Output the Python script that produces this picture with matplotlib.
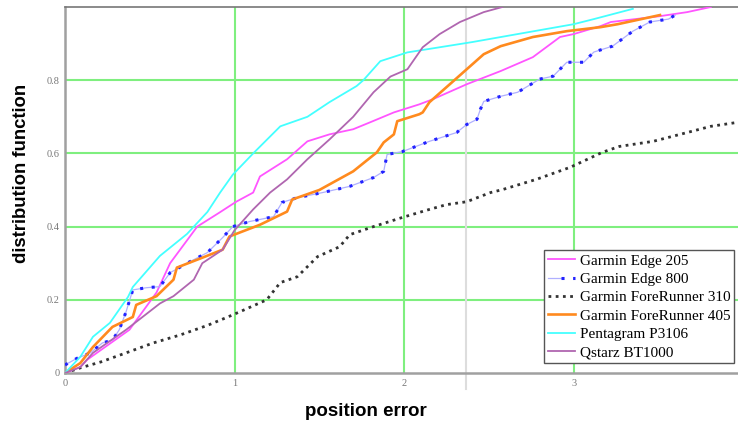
import matplotlib
matplotlib.use("Agg")
import matplotlib.pyplot as plt
from matplotlib.legend_handler import HandlerTuple

labels = ["Garmin Edge 205", "Garmin Edge 800", "Garmin ForeRunner 310",
          "Garmin ForeRunner 405", "Pentagram P3106", "Qstarz BT1000"]

edge205_x = [0, .09, .13, .38, .54, .62, .78, .91, 1.01, 1.11, 1.15, 1.31, 1.43, 1.56, 1.70, 1.80,
             1.94, 2.09, 2.17, 2.37, 2.57, 2.76, 2.92, 3.0, 3.16, 3.22, 3.51, 3.67, 3.81]
edge205_y = [0, .016, .036, .118, .22, .30, .40, .438, .468, .493, .537, .584, .633, .652, .666, .685,
             .712, .734, .748, .789, .825, .863, .918, .926, .948, .959, .975, .986, 1.0]

edge800_x = [0, .07, .15, .22, .28, .32, .36, .40, .48, .56, .62, .72, .84, .93, .99, 1.09, 1.23, 1.28,
             1.37, 1.52, 1.68, 1.82, 1.88, 1.90, 1.99, 2.15, 2.31, 2.37, 2.43, 2.45, 2.47, 2.57, 2.67,
             2.80, 2.88, 2.96, 3.06, 3.12, 3.23, 3.35, 3.45, 3.56, 3.60]
edge800_y = [.022, .04, .055, .082, .09, .118, .167, .227, .233, .236, .274, .30, .329, .37, .40, .414,
             .427, .466, .479, .493, .51, .534, .551, .597, .605, .633, .657, .679, .693, .72, .742, .756,
             .767, .803, .811, .849, .849, .877, .893, .934, .959, .967, .978]

fr310_x = [0, .09, .21, .36, .52, .68, .84, .96, 1.03, 1.19, 1.27, 1.37, 1.49, 1.62, 1.68, 1.82, 1.99,
           2.15, 2.25, 2.37, 2.51, 2.58, 2.78, 2.98, 3.17, 3.27, 3.47, 3.67, 3.81, 3.97]
fr310_y = [0, .014, .03, .055, .082, .104, .13, .153, .167, .20, .247, .263, .318, .345, .378, .40, .425,
           .447, .46, .468, .493, .501, .529, .562, .603, .619, .633, .657, .674, .685]

fr405_x = [0, .09, .165, .28, .40, .42, .54, .64, .66, .81, .93, .97, 1.15, 1.31, 1.34, 1.50, 1.70, 1.84,
           1.88, 1.94, 1.96, 2.09, 2.11, 2.15, 2.27, 2.37, 2.47, 2.57, 2.76, 2.96, 3.16, 3.26, 3.51]
fr405_y = [0, .027, .071, .126, .153, .186, .21, .255, .288, .315, .337, .373, .405, .441, .474, .50,
           .551, .603, .63, .652, .688, .707, .712, .74, .789, .83, .871, .893, .918, .934, .945, .953, .978]

p3106_x = [0, .09, .165, .265, .372, .40, .56, .72, .84, .915, .99, 1.11, 1.27, 1.43, 1.56, 1.72, 1.76,
           1.86, 2.02, 2.4, 3.0, 3.12, 3.35]
p3106_y = [0, .044, .099, .137, .208, .235, .32, .38, .44, .493, .542, .60, .674, .70, .74, .784, .80,
           .852, .876, .904, .953, .967, .995]

bt1000_x = [0, .09, .165, .36, .56, .64, .76, .81, .93, 1.0, 1.11, 1.21, 1.31, 1.43, 1.56, 1.70, 1.82,
            1.92, 2.02, 2.11, 2.21, 2.33, 2.47, 2.58]
bt1000_y = [0, .016, .055, .118, .19, .21, .255, .30, .337, .39, .447, .493, .529, .584, .638, .70, .767,
            .81, .83, .89, .926, .959, .986, 1.0]

xticks = [0, 1, 2, 3]
yticks = [0, 0.2, 0.4, 0.6, 0.8]
marker_x = 2.366

W, H = 738, 426
fig = plt.figure(figsize=(W / 100, H / 100), dpi=100)
ax = fig.add_axes([65 / W, 1 - 373 / H, (738 - 65) / W, (373 - 7) / H])

ax.set_xlim(0, 3.97)
ax.set_ylim(0, 1.0)

green = "#7fef7f"
for xv in xticks[1:]:
    ax.axvline(xv, color=green, lw=1.5, zorder=1)
for yv in yticks[1:]:
    ax.axhline(yv, color=green, lw=1.5, zorder=1)
ax.plot([marker_x, marker_x], [-0.045, 1.0], color="#dddddd", lw=1.5, zorder=1, clip_on=False)

l1, = ax.plot(edge205_x, edge205_y, color="#ff55ff", lw=1.3, zorder=3)
b_bg, = ax.plot(edge800_x, edge800_y, color="#b0b0ff", lw=0.9, zorder=3)
b_fg, = ax.plot(edge800_x, edge800_y, color="#2222ff", lw=2.2, linestyle=(0, (1, 2.8)), zorder=3)
l3, = ax.plot(fr310_x, fr310_y, color="#333333", lw=2.0, linestyle=(0, (1, 1.6)), zorder=3)
l4, = ax.plot(fr405_x, fr405_y, color="#ff8a1e", lw=1.9, zorder=3)
l5, = ax.plot(p3106_x, p3106_y, color="#44ffff", lw=1.3, zorder=3)
l6, = ax.plot(bt1000_x, bt1000_y, color="#b066b0", lw=1.3, zorder=3)

for s in ["left", "bottom"]:
    ax.spines[s].set_color("#a0a0a0")
    ax.spines[s].set_linewidth(1.8)
ax.spines["top"].set_color("#777777")
ax.spines["top"].set_linewidth(1.2)
ax.spines["right"].set_visible(False)

ax.set_xticks(xticks)
ax.set_xticklabels([str(v) for v in xticks])
ax.set_yticks(yticks)
ax.set_yticklabels(["0", "0.2", "0.4", "0.6", "0.8"])
ax.tick_params(length=0, labelsize=7.5, labelcolor="#777777", pad=4)
for t in ax.get_xticklabels() + ax.get_yticklabels():
    t.set_family("Liberation Serif")

fig.text(22 / W, 1 - 173 / H, "distribution function", rotation=90, ha="center", va="center",
         fontsize=13.3, fontweight="bold", family="Liberation Sans")
fig.text(366 / W, 1 - 411 / H, "position error", ha="center", va="center",
         fontsize=13.5, fontweight="bold", family="Liberation Sans")

leg = ax.legend([l1, (b_bg, b_fg), l3, l4, l5, l6], labels,
                handler_map={tuple: HandlerTuple(ndivide=None, pad=0)},
                loc="upper left", bbox_to_anchor=(544 / W, 1 - 250 / H),
                bbox_transform=fig.transFigure,
                prop={"family": "Liberation Serif", "size": 11},
                fancybox=False, framealpha=1, edgecolor="#555555",
                labelspacing=0.31, handlelength=1.75, handletextpad=0.35,
                borderpad=0.25, borderaxespad=0)
leg.get_frame().set_linewidth(1.0)
leg.set_zorder(5)

fig.savefig("out.png", dpi=100)
